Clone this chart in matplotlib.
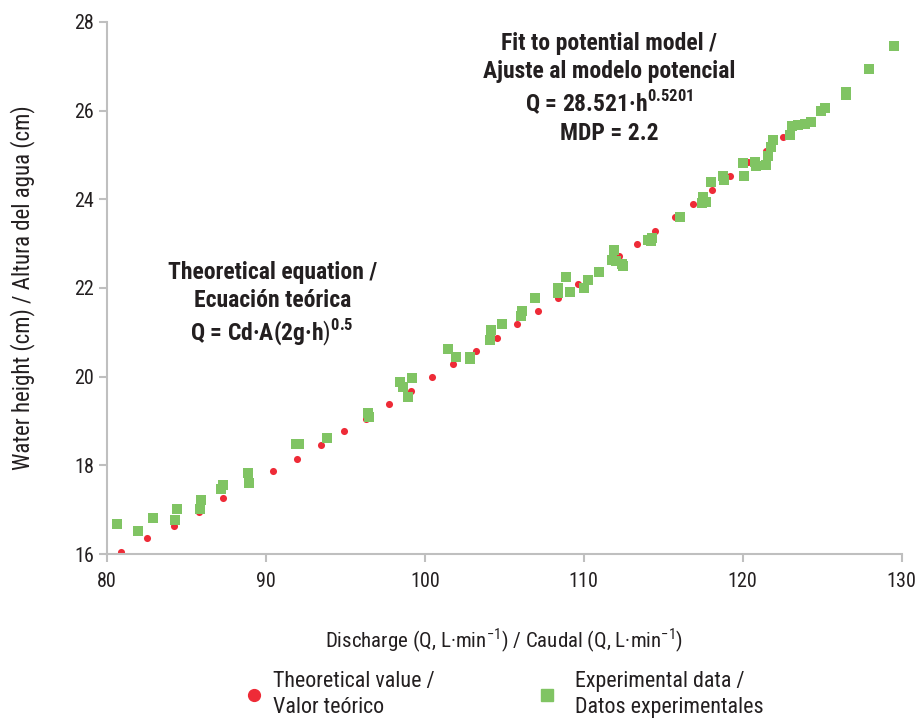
import numpy as np
import matplotlib
matplotlib.use("Agg")
import matplotlib.pyplot as plt
from matplotlib.lines import Line2D
from matplotlib import font_manager

# look for a narrow / condensed sans face, else Liberation Sans
fam, stretch = 'Liberation Sans', 'normal'
prefs = ['Liberation Sans Narrow', 'Roboto Condensed', 'Open Sans Condensed',
         'Noto Sans Condensed', 'Noto Sans', 'Open Sans', 'Roboto']
found = {}
for f in font_manager.fontManager.ttflist:
    narrow = ('Narrow' in f.name or 'Condensed' in f.name or
              f.stretch in ('condensed', 'semi-condensed', 'extra-condensed'))
    if narrow and f.name in prefs:
        found.setdefault(f.name, f.stretch)
for p in prefs:
    if p in found:
        fam, stretch = p, found[p]
        break

plt.rcParams['font.family'] = [fam, 'DejaVu Sans']
plt.rcParams['font.stretch'] = stretch
plt.rcParams['mathtext.fontset'] = 'custom'
plt.rcParams['mathtext.rm'] = fam + ':stretch=' + str(stretch)
plt.rcParams['mathtext.bf'] = fam + ':bold:stretch=' + str(stretch)

# theoretical values (red dots)
theo_q = [80.88, 82.50, 84.19, 85.79, 87.32, 88.90, 90.44, 91.97, 93.48, 94.91,
          96.29, 97.73, 99.16, 100.48, 101.80, 103.23, 104.55, 105.77, 107.13, 108.35,
          109.65, 110.90, 112.20, 113.35, 114.48, 115.72, 116.86, 118.07, 119.23, 120.33,
          121.45, 122.55]
theo_h = [16.04, 16.35, 16.64, 16.95, 17.26, 17.57, 17.88, 18.15, 18.45, 18.77,
          19.05, 19.38, 19.68, 19.99, 20.29, 20.57, 20.87, 21.18, 21.49, 21.77,
          22.09, 22.41, 22.71, 22.99, 23.29, 23.59, 23.90, 24.21, 24.52, 24.83,
          25.10, 25.41]

# experimental data (green squares)
exp_q = [80.61, 81.97, 82.89, 84.26, 84.42, 85.85, 85.89, 87.15, 87.30, 88.89,
         88.95, 91.90, 92.10, 93.82, 96.45, 96.48, 98.43, 98.64, 98.93, 99.20,
         101.47, 101.97, 102.87, 102.87, 104.09, 104.15, 104.86, 106.06, 106.14, 106.92,
         108.35, 108.41, 108.87, 109.16, 110.02, 110.27, 110.96, 111.78, 111.89, 112.05,
         112.43, 112.47, 114.04, 114.25, 114.32, 116.08, 117.46, 117.50, 117.71, 118.03,
         118.76, 118.81, 120.02, 120.06, 120.75, 120.86, 121.45, 121.59, 121.80, 121.91,
         122.96, 123.13, 123.48, 123.90, 124.32, 124.95, 125.16, 126.48, 126.48, 127.94,
         129.52]
exp_h = [16.67, 16.53, 16.81, 16.77, 17.01, 17.01, 17.21, 17.47, 17.56, 17.82,
         17.61, 18.47, 18.47, 18.61, 19.19, 19.09, 19.88, 19.76, 19.53, 19.97,
         20.62, 20.44, 20.45, 20.40, 20.83, 21.06, 21.18, 21.36, 21.47, 21.77,
         22.01, 21.89, 22.25, 21.91, 22.00, 22.19, 22.36, 22.64, 22.85, 22.60,
         22.55, 22.49, 23.09, 23.05, 23.13, 23.59, 23.92, 24.05, 23.95, 24.40,
         24.52, 24.43, 24.82, 24.53, 24.83, 24.74, 24.78, 24.98, 25.19, 25.33,
         25.46, 25.66, 25.68, 25.70, 25.74, 25.98, 26.05, 26.36, 26.41, 26.93,
         27.45]

x_ticks = [80, 90, 100, 110, 120, 130]
y_ticks = [16, 18, 20, 22, 24, 26, 28]

red = '#ee2b37'
green = '#80c463'
gray = '#bfbfbf'
txt = '#231f20'

fig = plt.figure(figsize=(9.2, 7.21), dpi=100)
ax = fig.add_axes([0.1163, 0.2316, 0.8637, 0.738])

ax.scatter(theo_q, theo_h, s=26, marker='o', color=red, linewidths=0, zorder=2)
ax.scatter(exp_q, exp_h, s=44, marker='s', color=green, linewidths=0, zorder=3)

ax.set_xlim(80, 130)
ax.set_ylim(16, 28)
ax.set_xticks(x_ticks)
ax.set_yticks(y_ticks)
for s in ['top', 'right']:
    ax.spines[s].set_visible(False)
for s in ['left', 'bottom']:
    ax.spines[s].set_color(gray)
    ax.spines[s].set_linewidth(1.5)
ax.tick_params(colors=gray, labelcolor=txt, labelsize=14.5, length=6, width=1.5)
ax.tick_params(axis='x', pad=7)

ax.set_xlabel('Discharge (Q, L·min$^{-1}$) / Caudal (Q, L·min$^{-1}$)',
              fontsize=15, color=txt)
ax.set_ylabel('Water height (cm) / Altura del agua (cm)', fontsize=16.5, color=txt)
ax.xaxis.set_label_coords(0.5, -0.137)
ax.yaxis.set_label_coords(-0.09, 0.5)

ax.text(90.4, 21.62, 'Theoretical equation /\nEcuación teórica\nQ = Cd·A(2g·h$)^{\\mathbf{0.5}}$',
        ha='center', va='center', fontsize=17, fontweight='bold', color=txt,
        linespacing=1.25)
ax.text(111.6, 26.5, 'Fit to potential model /\nAjuste al modelo potencial\n'
        'Q = 28.521·h$^{\\mathbf{0.5201}}$\nMDP = 2.2',
        ha='center', va='center', fontsize=17, fontweight='bold', color=txt,
        linespacing=1.25)

# legend, one block per series
leg_items = [
    (Line2D([], [], linestyle='none', marker='o', markersize=8.5, color=red),
     'Theoretical value /\nValor teórico', 0.264, 0.36),
    (Line2D([], [], linestyle='none', marker='s', markersize=9, color=green),
     'Experimental data /\nDatos experimentales', 0.5826, 0.77),
]
for h, lab, x0, pad in leg_items:
    leg = fig.legend([h], [lab], loc='center left', bbox_to_anchor=(x0, 0.037),
                     frameon=False, fontsize=15.8, handlelength=1.0,
                     handletextpad=pad, borderpad=0, borderaxespad=0,
                     labelcolor=txt)
    for t in leg.get_texts():
        t.set_linespacing(1.3)

fig.savefig('out.png', dpi=100)
